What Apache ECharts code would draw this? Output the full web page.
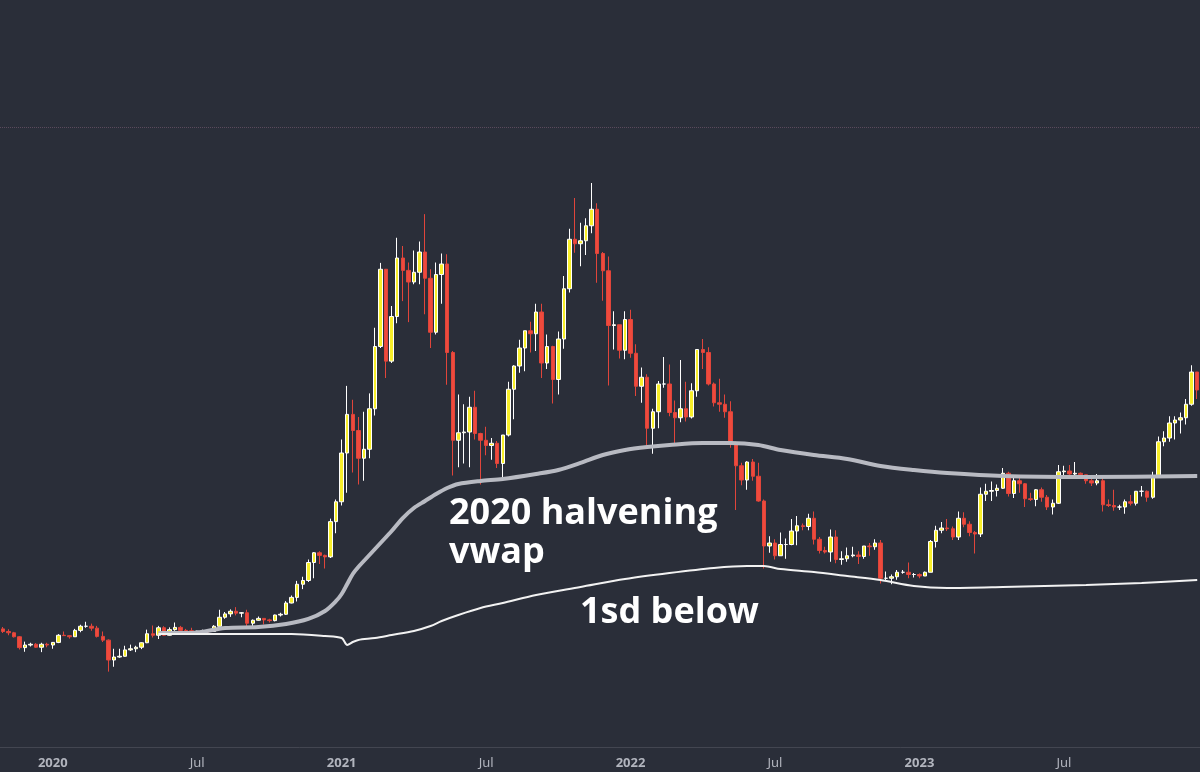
<!DOCTYPE html>
<html><head><meta charset="utf-8">
<script src="https://cdn.jsdelivr.net/npm/echarts@6/dist/echarts.min.js"></script>
<style>html,body{margin:0;padding:0;background:#2a2e39}#c{width:1200px;height:772px}</style>
</head><body><div id="c"></div>
<script>
// weekly candles (Monday start), first week
const startWeek = '2019-10-28';
// [open, high, low, close] in USD
const ohlc = [
[9550,9800,9000,9200],[9200,9500,8700,9030],[9030,9150,8400,8500],[8500,8600,6800,7050],[7050,7850,6500,7400],
[7400,7700,7200,7500],[7500,7650,7000,7100],[7100,7700,6450,7500],[7500,7700,7100,7400],
[7400,7800,6900,7750],[7750,8850,7650,8700],[8700,9200,8600,8650],[8650,8700,8250,8500],[8500,9550,8500,9350],
[9350,10100,9100,9900],[9900,10500,9700,9900],[9900,10250,9300,9650],[9650,9950,8400,8550],
[8550,9200,7800,8050],[8050,8150,3850,5400],[5400,6900,4500,5800],[5800,6900,5700,5900],[5900,7300,5850,6750],
[6750,7450,6600,6900],[6900,7300,6450,7100],[7100,7750,6850,7700],[7700,9450,7650,8900],
[8900,10000,8400,8700],[8700,9950,8200,9700],[9700,9900,8600,8700],[8700,9750,8650,9450],
[9450,10400,9300,9750],[9750,9950,9100,9350],[9350,9550,9200,9300],[9300,9700,8850,9000],[9000,9300,8950,9250],
[9250,9450,9150,9250],[9250,9300,9050,9200],[9200,10050,9150,9900],[9900,12100,9900,11100],
[11100,11800,10900,11550],[11550,12150,11150,11900],[11900,12450,11350,11650],[11650,11800,11100,11700],[11700,12100,9900,10300],
[10300,10800,9900,10700],[10700,11200,10650,10950],[10950,10950,10150,10750],[10750,10900,10400,10650],
[10650,11450,10550,11400],[11400,11700,11200,11500],[11500,13250,11400,13000],[13000,14000,12950,13750],
[13750,15950,13200,15500],[15500,16500,14850,16000],[16000,18800,15800,18400],[18400,19800,16300,19700],[19700,19900,18200,19350],
[19350,19450,17600,19150],[19150,24250,19000,23850],[23850,26800,22300,26500],[26500,34800,26000,33000],
[33000,41950,27700,38150],[38150,40100,30400,36000],[36000,37800,28800,32300],[32300,38500,29300,33500],
[33500,40950,32300,38900],[38900,49700,38000,47200],[47200,58350,47000,57500],[57500,57500,43000,45250],
[45250,52600,45000,51200],[51200,61700,50300,59000],[59000,60600,53250,57350],[57350,58400,50450,55800],[55800,60000,55500,57100],
[57100,61200,55500,59800],[59800,64850,51500,56300],[56300,57500,47000,49100],[49100,58400,48800,56800],
[56800,59600,52900,58200],[58200,59500,42100,46400],[46400,46600,30000,34700],[34700,40800,31100,35700],[35700,39500,31600,35800],
[35800,40500,31100,39100],[39100,41300,34800,35600],[35600,35700,28800,34700],[34700,36500,32700,34000],
[34000,35000,32100,34300],[34300,34600,31000,31600],[31600,35400,29300,35400],[35400,42500,35200,41500],
[41500,44700,37500,44600],[44600,48100,43700,47000],[47000,49300,43900,49300],[49300,50500,46400,48900],[48900,52900,46600,51800],
[51800,52900,43000,45000],[45000,48800,44200,47200],[47200,47300,39600,42800],[42800,49200,40800,48200],
[48200,56600,46900,54900],[54900,62900,54400,61500],[61500,67000,59700,60900],[60900,63700,57900,61300],
[61300,64300,59400,63300],[63300,69000,62300,65500],[65500,66300,55700,59600],[59600,59800,53300,57300],[57300,59200,42000,50000],
[50000,51900,46800,50100],[50100,50100,45600,46700],[46700,51900,45500,50800],[50800,52100,45700,46300],
[46300,47500,40600,41900],[41900,44400,39700,43100],[43100,43500,34000,36300],[36300,38900,32900,38500],[38500,42600,36300,42200],
[42200,45800,41700,42200],[42200,44800,37900,38400],[38400,40000,34300,37700],[37700,45400,37100,38900],
[38900,42500,37200,37800],[37800,42300,37600,41300],[41300,46800,40500,46800],[46800,48200,44200,46400],
[46400,47100,42000,42200],[42200,42400,39200,39700],[39700,42900,38500,39500],[39500,40800,37700,38500],
[38500,39900,33700,34300],[34300,34500,25400,31300],[31300,31700,28700,29400],[29400,31900,28100,31800],[31800,32200,29300,29900],
[29900,31700,26500,26600],[26600,26800,17600,20600],[20600,21900,19700,21000],[21000,21500,18800,19300],
[19300,22400,19300,20800],[20800,21600,18900,20800],[20800,24200,20700,22600],[22600,24600,20700,23300],
[23300,23600,22700,23200],[23200,24900,22700,24300],[24300,25200,20800,21500],[21500,21800,19600,20000],[20000,20500,19600,19800],
[19800,22800,18500,21800],[21800,22700,18300,18800],[18800,19900,18100,18900],[18900,20400,18500,19300],
[19300,20500,19100,19400],[19400,19900,18200,19200],[19200,20600,18900,20600],[20600,21000,19300,20500],[20500,21500,20100,21000],
[21000,21400,15600,16300],[16300,17200,16000,16300],[16300,16800,15500,16500],[16500,17400,16100,17100],
[17100,17400,16900,17100],[17100,18400,16300,16800],[16800,17000,16400,16800],[16800,16950,16300,16600],
[16600,17200,16600,17100],[17100,21400,17100,21200],[21200,23300,20400,22700],[22700,23800,22300,23000],[23000,24200,22600,22900],
[22900,23200,21400,21800],[21800,25200,21400,24300],[24300,25100,23100,23500],[23500,23900,21900,22400],
[22400,22600,19600,22200],[22200,28400,21800,27500],[27500,28900,26600,27900],[27900,29200,26600,28000],
[28000,28800,27200,28300],[28300,31000,28200,30300],[30300,30500,27200,27600],[27600,30000,27000,29300],
[29300,29800,27700,28900],[28900,29000,25800,26900],[26900,27700,26600,26800],[26800,28200,25900,28100],[28100,28400,26500,27100],
[27100,27400,25400,25800],[25800,26800,24800,26300],[26300,31400,26200,30500],[30500,31300,29900,30600],
[30600,31400,29700,30200],[30200,31800,29900,30300],[30300,30400,29600,30100],[30100,30100,28900,29300],[29300,30000,28600,29000],
[29000,30200,28700,29300],[29300,29700,25200,26100],[26100,26800,25800,26000],[26000,28100,25300,25800],
[25800,26100,25400,25800],[25800,26800,24900,26500],[26500,27400,26000,26300],[26300,27900,26000,27900],
[27900,28600,27200,27900],[27900,28000,26500,27100],[27100,30500,26900,29900],[29900,35200,29900,34500],[34500,35900,33900,35000],
[35000,37900,34500,37000],[37000,37900,34800,37400],[37400,38400,35600,37700],[37700,40200,36800,39500],
[39500,44700,39300,43800],[43800,43800,40200,41400]
];
// 2020 halving anchored VWAP
const vwapDates = ['2020-05-11','2020-06-22','2020-08-03','2020-09-14','2020-10-19','2020-11-16','2020-12-07','2020-12-21','2020-12-28',
'2021-01-04','2021-01-11','2021-01-18','2021-02-01','2021-02-15','2021-03-01','2021-03-15','2021-03-29','2021-04-12','2021-04-26',
'2021-05-10','2021-05-24','2021-06-21','2021-07-19','2021-08-30','2021-09-27','2021-10-25','2021-11-22','2021-12-20',
'2022-01-17','2022-02-14','2022-03-28','2022-05-02','2022-06-06','2022-07-04','2022-08-15','2022-09-26','2022-11-07','2022-12-19',
'2023-01-30','2023-04-10','2023-07-24','2023-12-11'];
const vwapValues = [9000,9000,9670,9800,10200,10870,11930,13270,14200,
15530,16870,17800,19400,21000,22600,24330,25670,26600,27530,
28330,28870,29270,29530,30200,30730,31670,32730,33400,
33800,34070,34330,34330,34070,33400,32730,32200,31270,30730,
30330,29930,29800,29930];
// 1 standard deviation below
const sdDates = ['2020-05-11','2020-06-22','2020-09-14','2020-10-26','2020-12-07','2020-12-28',
'2021-01-04','2021-01-11','2021-01-18','2021-02-08','2021-03-01','2021-03-29','2021-04-19','2021-05-03','2021-05-24',
'2021-06-21','2021-07-19','2021-08-30','2021-10-25','2021-12-20','2022-02-14','2022-04-11','2022-05-23','2022-06-13',
'2022-07-04','2022-08-15','2022-09-26','2022-11-07','2022-12-19','2023-01-30','2023-04-10','2023-07-24','2023-10-02','2023-12-11'];
const sdValues = [8870,8870,8870,8870,8600,8330,
7400,7800,8070,8330,8730,9270,9930,10600,11400,
12330,13000,14070,15130,16200,17000,17670,17930,17930,
17530,17130,16600,16070,15270,15000,15130,15400,15670,16070];
const levelLine = 76500;
const labelsText = ['2020 halvening', 'vwap', '1sd below'];

// build weekly categories
const weeks = [];
{
  const t0 = Date.parse(startWeek + 'T00:00:00Z');
  for (let i = 0; i < ohlc.length; i++) {
    weeks.push(new Date(t0 + i * 7 * 86400000).toISOString().slice(0, 10));
  }
}
function firstOfMonth(str) {
  const t = Date.parse(str + 'T00:00:00Z');
  for (let k = 0; k < 7; k++) {
    const d = new Date(t + k * 86400000);
    if (d.getUTCDate() === 1 && (d.getUTCMonth() === 0 || d.getUTCMonth() === 6)) return d;
  }
  return null;
}
const candleData = ohlc.map(r => [r[0], r[3], r[2], r[1]]);

const chart = echarts.init(document.getElementById('c'), null, {renderer: 'canvas'});
chart.setOption({
  backgroundColor: '#2a2e39',
  animation: false,
  grid: {left: 0, right: 0, top: 0, bottom: 25},
  xAxis: {
    type: 'category', data: weeks, boundaryGap: true,
    axisLine: {onZero: false, lineStyle: {color: '#434651', width: 1}},
    axisTick: {show: false},
    splitLine: {show: false},
    axisLabel: {
      interval: (idx, val) => firstOfMonth(val) !== null,
      margin: 10,
      formatter: val => {
        const d = firstOfMonth(val);
        if (!d) return '';
        return d.getUTCMonth() === 0 ? '{y|' + d.getUTCFullYear() + '}' : '{m|Jul}';
      },
      rich: {
        y: {color: '#b2b5be', fontFamily: 'Noto Sans', fontSize: 13, fontWeight: 'bold'},
        m: {color: '#b2b5be', fontFamily: 'Noto Sans', fontSize: 13}
      }
    }
  },
  yAxis: {
    type: 'value', min: -6200, max: 93400, show: false, scale: false
  },
  series: [
    {
      type: 'candlestick', data: candleData, barWidth: 4,
      itemStyle: {color: '#f7ee2a', color0: '#ef4a3c', borderColor: '#ffffff', borderColor0: '#e0453b', borderWidth: 1},
      markLine: {
        silent: true, symbol: 'none', label: {show: false},
        lineStyle: {type: 'dotted', color: '#5a4a5c', width: 1},
        data: [{yAxis: levelLine}]
      }
    },
    {
      type: 'line', data: vwapDates.map((d, i) => [d, vwapValues[i]]),
      showSymbol: false, smooth: 0.3,
      lineStyle: {color: '#b8bac2', width: 4}, z: 3
    },
    {
      type: 'line', data: sdDates.map((d, i) => [d, sdValues[i]]),
      showSymbol: false, smooth: 0.3,
      lineStyle: {color: '#f2f2f2', width: 2}, z: 3
    }
  ],
  graphic: [
    {type: 'text', left: 449, top: 494, z: 10, style: {text: labelsText[0] + '\n' + labelsText[1], fill: '#ffffff', font: 'bold 36px "Open Sans"', lineHeight: 39}},
    {type: 'text', left: 580, top: 595, z: 10, style: {text: labelsText[2], fill: '#ffffff', font: 'bold 36px "Open Sans"'}}
  ]
});
</script>
</body></html>
